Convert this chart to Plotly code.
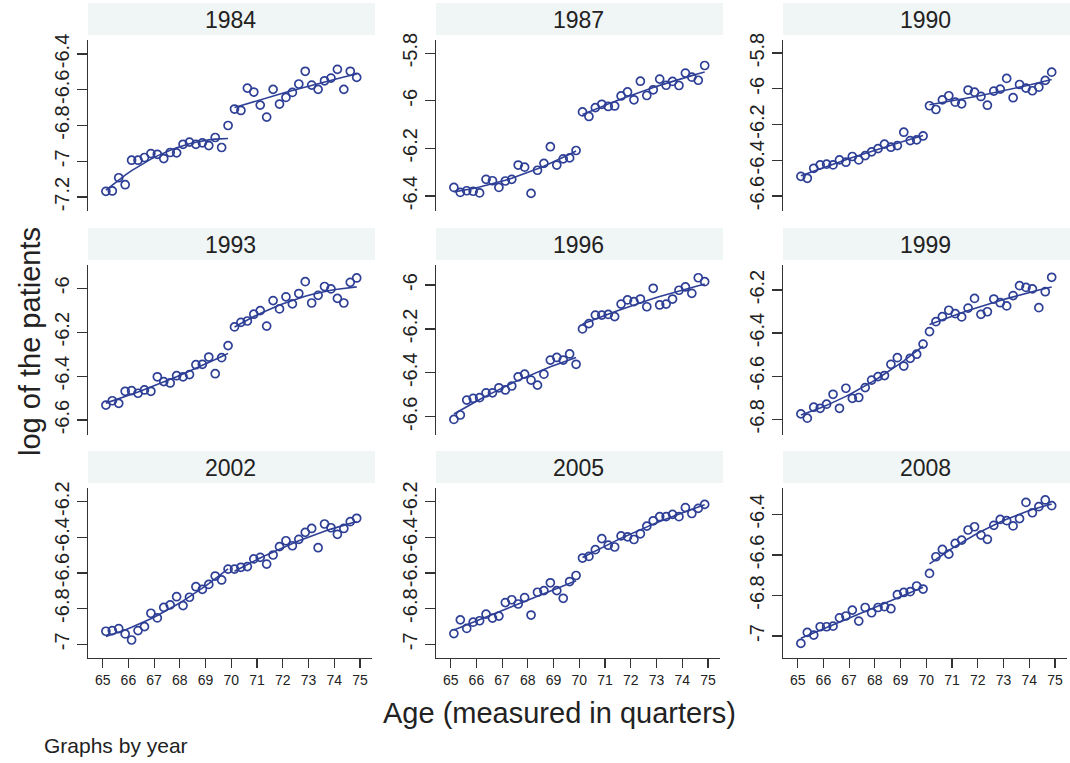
import numpy as np
import plotly.graph_objects as go

# ---------------- data ----------------
years = ["1984", "1987", "1990", "1993", "1996", "1999", "2002", "2005", "2008"]

age_q = [65.125, 65.375, 65.625, 65.875, 66.125, 66.375, 66.625, 66.875,
         67.125, 67.375, 67.625, 67.875, 68.125, 68.375, 68.625, 68.875,
         69.125, 69.375, 69.625, 69.875, 70.125, 70.375, 70.625, 70.875,
         71.125, 71.375, 71.625, 71.875, 72.125, 72.375, 72.625, 72.875,
         73.125, 73.375, 73.625, 73.875, 74.125, 74.375, 74.625, 74.875]

y1984 = [-7.168, -7.166, -7.092, -7.131, -6.994, -6.994, -6.979, -6.957, -6.961, -6.985,
         -6.951, -6.953, -6.905, -6.893, -6.905, -6.897, -6.912, -6.867, -6.923, -6.800,
         -6.708, -6.716, -6.591, -6.613, -6.686, -6.753, -6.598, -6.680, -6.643, -6.615,
         -6.568, -6.497, -6.574, -6.598, -6.550, -6.535, -6.486, -6.598, -6.497, -6.531]
y1987 = [-6.364, -6.385, -6.378, -6.380, -6.387, -6.330, -6.336, -6.364, -6.337, -6.330,
         -6.270, -6.279, -6.389, -6.292, -6.263, -6.193, -6.270, -6.244, -6.240, -6.209,
         -6.047, -6.066, -6.029, -6.015, -6.024, -6.022, -5.980, -5.963, -5.996, -5.918,
         -5.978, -5.954, -5.909, -5.935, -5.919, -5.936, -5.884, -5.901, -5.914, -5.852]
y1990 = [-6.490, -6.501, -6.445, -6.426, -6.422, -6.426, -6.398, -6.411, -6.379, -6.398,
         -6.374, -6.353, -6.335, -6.310, -6.327, -6.318, -6.243, -6.290, -6.286, -6.264,
         -6.095, -6.116, -6.062, -6.039, -6.075, -6.084, -6.007, -6.019, -6.043, -6.092,
         -6.013, -6.002, -5.942, -6.050, -5.976, -5.996, -6.011, -5.991, -5.953, -5.907]
y1993 = [-6.532, -6.512, -6.524, -6.469, -6.466, -6.478, -6.463, -6.469, -6.403, -6.425,
         -6.431, -6.398, -6.403, -6.393, -6.348, -6.346, -6.313, -6.389, -6.316, -6.261,
         -6.176, -6.155, -6.149, -6.118, -6.102, -6.172, -6.056, -6.094, -6.039, -6.071,
         -6.024, -5.970, -6.067, -6.032, -5.992, -6.003, -6.046, -6.067, -5.973, -5.953]
y1996 = [-6.612, -6.592, -6.524, -6.516, -6.513, -6.491, -6.491, -6.468, -6.478, -6.460,
         -6.418, -6.406, -6.433, -6.456, -6.406, -6.342, -6.330, -6.342, -6.314, -6.361,
         -6.200, -6.176, -6.137, -6.137, -6.134, -6.144, -6.087, -6.068, -6.076, -6.064,
         -6.099, -6.015, -6.091, -6.087, -6.064, -6.024, -6.009, -6.038, -5.967, -5.985]
y1999 = [-6.775, -6.795, -6.744, -6.749, -6.730, -6.684, -6.749, -6.656, -6.703, -6.699,
         -6.653, -6.618, -6.602, -6.597, -6.545, -6.514, -6.553, -6.517, -6.498, -6.451,
         -6.393, -6.347, -6.324, -6.294, -6.310, -6.325, -6.284, -6.239, -6.313, -6.301,
         -6.242, -6.259, -6.274, -6.226, -6.180, -6.188, -6.195, -6.282, -6.208, -6.141]
y2002 = [-6.927, -6.923, -6.912, -6.942, -6.976, -6.923, -6.901, -6.826, -6.852, -6.793,
         -6.779, -6.733, -6.783, -6.736, -6.677, -6.692, -6.664, -6.617, -6.639, -6.578,
         -6.578, -6.568, -6.564, -6.521, -6.512, -6.550, -6.499, -6.452, -6.419, -6.447,
         -6.411, -6.372, -6.350, -6.458, -6.325, -6.346, -6.383, -6.350, -6.312, -6.293]
y2005 = [-6.940, -6.863, -6.911, -6.876, -6.868, -6.831, -6.853, -6.842, -6.766, -6.750,
         -6.774, -6.738, -6.836, -6.708, -6.699, -6.655, -6.699, -6.742, -6.648, -6.614,
         -6.516, -6.507, -6.469, -6.407, -6.444, -6.454, -6.392, -6.397, -6.412, -6.380,
         -6.337, -6.307, -6.284, -6.284, -6.271, -6.284, -6.233, -6.266, -6.237, -6.215]
y2008 = [-7.036, -6.982, -6.995, -6.954, -6.954, -6.951, -6.910, -6.901, -6.872, -6.926,
         -6.859, -6.885, -6.859, -6.855, -6.865, -6.796, -6.785, -6.781, -6.753, -6.768,
         -6.691, -6.609, -6.573, -6.596, -6.543, -6.527, -6.477, -6.461, -6.502, -6.523,
         -6.454, -6.425, -6.431, -6.457, -6.421, -6.341, -6.392, -6.362, -6.329, -6.357]

series = [y1984, y1987, y1990, y1993, y1996, y1999, y2002, y2005, y2008]

ytick_vals = [
    [-7.2, -7, -6.8, -6.6, -6.4],
    [-6.4, -6.2, -6, -5.8],
    [-6.6, -6.4, -6.2, -6, -5.8],
    [-6.6, -6.4, -6.2, -6],
    [-6.6, -6.4, -6.2, -6],
    [-6.8, -6.6, -6.4, -6.2],
    [-7, -6.8, -6.6, -6.4, -6.2],
    [-7, -6.8, -6.6, -6.4, -6.2],
    [-7, -6.8, -6.6, -6.4],
]
yranges = [
    [-7.278, -6.322], [-6.463, -5.745], [-6.684, -5.727],
    [-6.668, -5.894], [-6.683, -5.909], [-6.873, -6.084],
    [-7.077, -6.123], [-7.077, -6.123], [-7.108, -6.270],
]
xtick_vals = [65, 66, 67, 68, 69, 70, 71, 72, 73, 74, 75]
cutoff = 70

# ---------------- layout helpers ----------------
W, H = 1070, 763
cols_px = [(88, 372), (436, 720), (783, 1067)]
rows_px = [(40, 211), (265, 435), (488, 658)]
COLOR = "#2e3f96"
FONT = "Liberation Sans, Arial, Helvetica, sans-serif"

def fmt(v):
    return "%g" % v

fig = go.Figure()
layout = dict(
    width=W, height=H,
    margin=dict(l=0, r=0, t=0, b=0, autoexpand=False),
    paper_bgcolor="white", plot_bgcolor="white",
    showlegend=False,
    font=dict(family=FONT, color="#222"),
)
shapes = []
annotations = []

for i, (yr, ys) in enumerate(zip(years, series)):
    r, c = divmod(i, 3)
    ax = "" if i == 0 else str(i + 1)
    xa, ya = "x" + ax, "y" + ax
    x = np.array(age_q)
    y = np.array(ys)

    fig.add_trace(go.Scatter(
        x=x, y=y, mode="markers", xaxis=xa, yaxis=ya,
        marker=dict(symbol="circle-open", size=8, color=COLOR,
                    line=dict(width=1.7, color=COLOR)),
        hoverinfo="skip"))
    for mask in (x < cutoff, x >= cutoff):
        coef = np.polyfit(x[mask], y[mask], 2)
        fig.add_trace(go.Scatter(
            x=x[mask], y=np.polyval(coef, x[mask]), mode="lines",
            xaxis=xa, yaxis=ya, line=dict(color=COLOR, width=1.6),
            hoverinfo="skip"))

    l, rr = cols_px[c]
    t, b = rows_px[r]
    bottom = (r == 2)
    layout["xaxis" + ax] = dict(
        domain=[l / W, rr / W], anchor=ya, range=[64.43, 75.47],
        automargin=False,
        showgrid=False, zeroline=False,
        showline=bottom, linecolor="#333", linewidth=1.2,
        ticks="outside" if bottom else "", ticklen=9, tickwidth=1.2, tickcolor="#333",
        tickvals=xtick_vals if bottom else [],
        ticktext=[str(v) for v in xtick_vals] if bottom else [],
        showticklabels=bottom,
        tickfont=dict(size=14, family=FONT, color="#222"),
    )
    layout["yaxis" + ax] = dict(
        domain=[1 - b / H, 1 - t / H], anchor=xa, range=yranges[i],
        automargin=False,
        showgrid=False, zeroline=False,
        showline=True, linecolor="#333", linewidth=1.2,
        ticks="outside", ticklen=10, tickwidth=1.2, tickcolor="#333",
        tickvals=ytick_vals[i], ticktext=[fmt(v) for v in ytick_vals[i]],
        tickangle=-90, ticklabelstandoff=0,
        tickfont=dict(size=20, family=FONT, color="#222"),
    )
    # strip
    shapes.append(dict(type="rect", xref="paper", yref="paper",
                       x0=l / W, x1=(rr + 3) / W, y0=1 - (t - 5) / H, y1=1 - (t - 37) / H,
                       fillcolor="#f0f5f6", line=dict(width=0), layer="below"))
    annotations.append(dict(text=yr, xref="paper", yref="paper",
                            x=(l + rr) / 2 / W, y=1 - (t - 20) / H,
                            xanchor="center", yanchor="middle", showarrow=False,
                            font=dict(size=23, family=FONT, color="#222")))

annotations.append(dict(text="log of the patients", xref="paper", yref="paper",
                        x=30 / W, y=1 - 342 / H, textangle=-90, showarrow=False,
                        xanchor="center", yanchor="middle",
                        font=dict(size=29, family=FONT, color="#222")))
annotations.append(dict(text="Age (measured in quarters)", xref="paper", yref="paper",
                        x=559 / W, y=1 - 713 / H, showarrow=False,
                        xanchor="center", yanchor="middle",
                        font=dict(size=29, family=FONT, color="#222")))
annotations.append(dict(text="Graphs by year", xref="paper", yref="paper",
                        x=42 / W, y=1 - 745 / H, showarrow=False,
                        xanchor="left", yanchor="middle",
                        font=dict(size=21, family=FONT, color="#222")))

layout["shapes"] = shapes
layout["annotations"] = annotations
fig.update_layout(**layout)
fig.write_html("out.html",
               config={"displayModeBar": False, "staticPlot": True},
               post_script="document.body.style.margin='0';document.body.style.padding='0';")
